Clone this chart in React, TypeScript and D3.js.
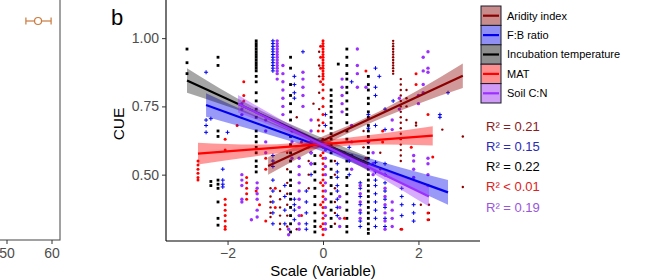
import React, { useEffect, useRef } from "react";
import * as d3 from "d3";

// panel a (only its right edge is visible)
const leftTicks = [50, 60];
const leftEstimate = [56.9];
const leftLow = [54.2];
const leftHigh = [59.8];

// panel b
const seriesNames = ["Aridity index", "F:B ratio", "Incubation temperature", "MAT", "Soil C:N"];
const r2Labels = ["R² = 0.21", "R² = 0.15", "R² = 0.22", "R² < 0.01", "R² = 0.19"];
const xTicks = [-2, 0, 2];
const yTicks = [0.5, 0.75, 1.0];

// points as columns: [scaled value, CUE values]
const aridityPts: [number, number[]][] = [
  [-1.1, [0.45, 0.42, 0.4, 0.38, 0.36, 0.345]],
  [-0.9, [0.44, 0.41, 0.38, 0.35, 0.32, 0.3]],
  [-0.75, [0.58, 0.52, 0.47, 0.43, 0.39, 0.35, 0.31]],
  [-0.55, [0.71, 0.66, 0.3]],
  [-0.3, [0.6, 0.55, 0.5, 0.45]],
  [-0.2, [0.76]],
  [-0.08, [0.95, 0.9, 0.86, 0.8, 0.74, 0.68]],
  [0.25, [0.55, 0.5, 0.45, 0.4, 0.36, 0.32]],
  [0.6, [0.62, 0.57]],
  [0.85, [0.66, 0.6, 0.55]],
  [1.2, [0.58, 0.52]],
  [1.47, [0.99, 0.98, 0.97, 0.96, 0.95, 0.94, 0.93, 0.92, 0.91, 0.9, 0.89, 0.88, 0.87]],
  [1.63, [0.85, 0.83, 0.81, 0.79, 0.77, 0.75, 0.73, 0.71, 0.69, 0.67, 0.65, 0.63, 0.61, 0.59, 0.57, 0.55, 0.3]],
  [1.75, [0.81, 0.78, 0.75, 0.7]],
  [1.95, [0.69, 0.68]],
  [2.05, [0.39]],
  [2.22, [0.39, 0.36, 0.335]],
  [2.5, [0.665]],
  [2.93, [0.64, 0.455]],
];

const fbPts: [number, number[]][] = [
  [-2.45, [0.875, 0.7, 0.68, 0.655]],
  [-2.35, [0.705]],
  [-2.1, [0.52, 0.48, 0.465, 0.455]],
  [-2.0, [0.655]],
  [-1.05, [0.99, 0.98, 0.97, 0.96, 0.95, 0.94, 0.93, 0.92, 0.91, 0.9, 0.89, 0.88, 0.57, 0.55, 0.53, 0.48, 0.44, 0.4, 0.36, 0.32]],
  [-0.8, [0.46, 0.42, 0.37, 0.32]],
  [-0.6, [0.86, 0.83, 0.8, 0.78, 0.41, 0.39, 0.37, 0.335]],
  [-0.42, [0.95]],
  [-0.35, [0.44, 0.4, 0.36, 0.32, 0.3]],
  [-0.25, [0.62, 0.58, 0.54, 0.5]],
  [0.05, [0.72, 0.68]],
  [0.3, [0.54, 0.51, 0.49, 0.46, 0.44, 0.41, 0.38, 0.35]],
  [0.55, [0.6, 0.55, 0.5]],
  [0.6, [0.84]],
  [0.78, [0.47, 0.45, 0.42, 0.39, 0.36, 0.33, 0.31]],
  [0.95, [0.72, 0.67, 0.62]],
  [1.1, [0.89, 0.82, 0.79, 0.68, 0.545, 0.51, 0.48, 0.46, 0.43, 0.4, 0.37, 0.34, 0.31]],
  [1.18, [0.86]],
  [1.3, [0.74, 0.665, 0.54, 0.5, 0.47, 0.44, 0.41, 0.38, 0.34, 0.31]],
  [1.47, [0.77]],
  [1.65, [0.45, 0.42, 0.39, 0.35]],
  [1.9, [0.39, 0.36, 0.33]],
  [2.45, [0.72, 0.71]],
  [2.62, [0.8]],
];

const incubationPts: [number, number[]][] = [
  [-2.85, [0.96, 0.91, 0.87]],
  [-2.2, [0.93, 0.9, 0.66, 0.64, 0.48, 0.465, 0.45, 0.4, 0.34, 0.315]],
  [-2.35, [0.475, 0.46]],
  [-1.4, [0.99, 0.98, 0.97, 0.96, 0.95, 0.94, 0.93, 0.92, 0.91, 0.9, 0.89, 0.88, 0.86, 0.84, 0.8, 0.77, 0.74, 0.71, 0.66, 0.64, 0.62, 0.6, 0.58, 0.55, 0.53, 0.51]],
  [-0.68, [0.93, 0.89, 0.83, 0.79, 0.76, 0.73, 0.7, 0.67, 0.64, 0.61, 0.58, 0.55, 0.51, 0.48, 0.46, 0.43, 0.41, 0.38, 0.35, 0.32, 0.29]],
  [-0.17, [0.57, 0.54, 0.51, 0.48, 0.45, 0.42, 0.39, 0.36, 0.33, 0.31, 0.29]],
  [0.17, [0.81, 0.79, 0.77, 0.75, 0.73, 0.71, 0.69, 0.67, 0.65, 0.63, 0.61, 0.58, 0.55, 0.52, 0.49, 0.46, 0.43, 0.4, 0.37, 0.34, 0.31]],
  [0.32, [0.905]],
  [0.5, [0.96, 0.93, 0.9, 0.87, 0.85, 0.82, 0.8, 0.77, 0.74, 0.72, 0.69, 0.66, 0.63, 0.55, 0.52, 0.49, 0.46, 0.43, 0.4, 0.37, 0.34, 0.31, 0.29]],
  [0.95, [0.86, 0.83, 0.81, 0.78, 0.76, 0.73, 0.71, 0.68, 0.66, 0.64, 0.62, 0.6, 0.58, 0.56, 0.54, 0.52, 0.5, 0.48, 0.46, 0.44, 0.42, 0.4, 0.38, 0.36, 0.34, 0.32, 0.3, 0.285]],
];

const matPts: [number, number[]][] = [
  [-2.62, [0.55, 0.535, 0.52, 0.505, 0.49, 0.48]],
  [-2.05, [0.63, 0.59, 0.41, 0.39, 0.37, 0.35, 0.33, 0.31, 0.3]],
  [-1.8, [0.68]],
  [-1.66, [0.84, 0.79, 0.77]],
  [-1.6, [0.49, 0.47, 0.45, 0.43, 0.41]],
  [-1.4, [0.44]],
  [-1.33, [0.39]],
  [-1.2, [0.56, 0.52, 0.33]],
  [-1.0, [0.45, 0.38]],
  [-0.45, [0.62, 0.35]],
  [-0.1, [0.7, 0.66]],
  [-0.05, [0.97, 0.93, 0.89, 0.84, 0.57, 0.47, 0.39, 0.31]],
  [0.0, [0.99, 0.98, 0.97, 0.96, 0.95, 0.94, 0.93, 0.92, 0.91, 0.9, 0.89, 0.88, 0.87, 0.86, 0.85, 0.83, 0.81, 0.78, 0.75, 0.72, 0.69, 0.66, 0.63, 0.6, 0.58, 0.56, 0.54, 0.52, 0.5, 0.48, 0.46, 0.44, 0.42, 0.4, 0.38, 0.36, 0.34, 0.32, 0.3, 0.28]],
  [0.45, [0.58, 0.34]],
  [0.9, [0.88, 0.56]],
  [1.25, [0.66, 0.62]],
  [1.65, [0.3]],
  [1.85, [0.6]],
  [1.95, [0.87, 0.83]],
  [2.2, [0.72, 0.36, 0.335]],
  [2.3, [0.565]],
];

const soilPts: [number, number[]][] = [
  [-1.7, [0.76, 0.74, 0.72, 0.5, 0.48, 0.46, 0.41, 0.4]],
  [-1.5, [0.335]],
  [-1.38, [0.47, 0.45, 0.43, 0.41, 0.37, 0.345]],
  [-1.2, [0.7, 0.66, 0.62, 0.58]],
  [-0.96, [0.99, 0.98, 0.97, 0.96, 0.95, 0.94, 0.93, 0.92, 0.91, 0.9, 0.89, 0.88, 0.87, 0.85]],
  [-0.84, [0.9, 0.87, 0.84, 0.81, 0.78, 0.75, 0.72]],
  [-0.72, [0.3, 0.28]],
  [-0.65, [0.66, 0.62, 0.56]],
  [-0.5, [0.56, 0.53, 0.5, 0.47, 0.44, 0.41, 0.38, 0.35, 0.32, 0.3]],
  [-0.42, [0.875, 0.85, 0.82, 0.79, 0.75]],
  [-0.25, [0.7, 0.66, 0.62, 0.58, 0.54]],
  [0.05, [0.59, 0.56, 0.53, 0.5, 0.47, 0.44, 0.41, 0.38, 0.35, 0.32, 0.3]],
  [0.35, [0.42, 0.38, 0.34, 0.31]],
  [0.4, [0.85, 0.82, 0.79, 0.76, 0.73]],
  [0.6, [0.68, 0.62, 0.57, 0.52]],
  [0.72, [0.96, 0.9, 0.87, 0.82]],
  [0.78, [0.46, 0.43, 0.4, 0.37, 0.34]],
  [0.9, [0.82]],
  [1.05, [0.58, 0.54, 0.5]],
  [1.3, [0.45, 0.42, 0.39, 0.36, 0.33, 0.3]],
  [1.45, [0.7, 0.665, 0.4, 0.37, 0.34, 0.31]],
  [1.6, [0.78, 0.74]],
  [1.9, [0.57, 0.55, 0.52, 0.49]],
  [2.0, [0.79, 0.76]],
  [2.1, [0.93, 0.88, 0.83, 0.8]],
  [2.2, [0.95, 0.89, 0.875, 0.56, 0.54, 0.5, 0.46]],
];

// fitted lines [x start, y start, x end, y end]
const fitLines = [
  [-1.15, 0.532, 2.93, 0.862],
  [-2.45, 0.755, 2.62, 0.435],
  [-2.85, 0.845, 0.95, 0.54],
  [-2.62, 0.577, 2.3, 0.643],
  [-1.78, 0.76, 2.22, 0.42],
];

// confidence bands [x, low, high]
const aridityBand = [[-1.15, 0.5, 0.565], [0, 0.607, 0.641], [0.9, 0.682, 0.708], [2.0, 0.76, 0.81], [2.93, 0.817, 0.907]];
const fbBand = [[-2.45, 0.712, 0.798], [-1.2, 0.65, 0.7], [0, 0.585, 0.615], [1.3, 0.493, 0.543], [2.62, 0.39, 0.48]];
const incubationBand = [[-2.85, 0.8, 0.89], [-1.5, 0.718, 0.752], [-0.5, 0.643, 0.671], [0.95, 0.515, 0.565]];
const matBand = [[-2.62, 0.537, 0.617], [-1.3, 0.57, 0.61], [0, 0.598, 0.626], [1.2, 0.61, 0.65], [2.3, 0.607, 0.677]];
const soilBand = [[-1.78, 0.728, 0.792], [-0.8, 0.658, 0.694], [0.2, 0.58, 0.604], [1.2, 0.49, 0.524], [2.22, 0.383, 0.457]];

const colors = ["#8b0000", "#0000ee", "#000000", "#ff0000", "#9b30ff"];
const bandFills = ["#8b0000", "#0000ee", "#000000", "#ff0000", "#9b30ff"];
const bandOpacity = [0.4, 0.4, 0.35, 0.4, 0.4];
const keyFills = ["#c98c8c", "#8f8ff5", "#8e8e8e", "#ff8f8f", "#cf9bf7"];
const r2Colors = ["#8b1a1a", "#2a2ab8", "#000000", "#dd2020", "#9a55dd"];

export default function App() {
  const svgRef = useRef<SVGSVGElement>(null);

  useEffect(() => {
    const svg = d3.select(svgRef.current);
    svg.selectAll("*").remove();
    const font = "'Liberation Sans', Arial, Helvetica, sans-serif";
    const tickGrey = "#4d4d4d";

    // ---- panel a edge ----
    const xa = d3.scaleLinear().domain([50, 60]).range([7, 52]);
    const ga = svg.append("g");
    ga.append("rect")
      .attr("x", -10).attr("y", -10).attr("width", 70).attr("height", 250)
      .attr("fill", "none").attr("stroke", "#555").attr("stroke-width", 1.1);
    leftTicks.forEach((t) => {
      ga.append("line").attr("x1", xa(t)).attr("x2", xa(t)).attr("y1", 240).attr("y2", 244)
        .attr("stroke", "#333");
      ga.append("text").attr("x", xa(t)).attr("y", 258).attr("text-anchor", "middle")
        .attr("font-size", 14).attr("font-family", font).attr("fill", tickGrey).text(t);
    });
    const orange = "#c97b3d";
    leftEstimate.forEach((v, i) => {
      const yy = 21;
      ga.append("line").attr("x1", xa(leftLow[i])).attr("x2", xa(leftHigh[i])).attr("y1", yy).attr("y2", yy)
        .attr("stroke", orange).attr("stroke-width", 1.2);
      [leftLow[i], leftHigh[i]].forEach((e) =>
        ga.append("line").attr("x1", xa(e)).attr("x2", xa(e)).attr("y1", yy - 3.5).attr("y2", yy + 3.5)
          .attr("stroke", orange).attr("stroke-width", 1.2));
      ga.append("circle").attr("cx", xa(v)).attr("cy", yy).attr("r", 3.5)
        .attr("fill", "white").attr("stroke", orange).attr("stroke-width", 1.2);
    });

    // ---- panel b ----
    const left = 166, right = 480, top = 1, bottom = 241;
    const x = d3.scaleLinear().domain([-3.29, 3.29]).range([left, right]);
    const y = d3.scaleLinear().domain([0.257, 1.136]).range([bottom, top]);

    const g = svg.append("g");
    const flat = (cols: [number, number[]][]) =>
      cols.flatMap(([cx, ys]) => ys.map((cy) => [cx, cy] as [number, number]));

    // points
    const pg = g.append("g");
    pg.selectAll("rect.inc").data(flat(incubationPts)).join("rect")
      .attr("x", (d) => x(d[0]) - 1.4).attr("y", (d) => y(d[1]) - 1.4)
      .attr("width", 2.8).attr("height", 2.8).attr("fill", colors[2]);
    pg.selectAll("path.fb").data(flat(fbPts)).join("path")
      .attr("d", (d) => {
        const cx = x(d[0]), cy = y(d[1]);
        return `M${cx - 2},${cy}H${cx + 2}M${cx},${cy - 2}V${cy + 2}`;
      })
      .attr("stroke", colors[1]).attr("stroke-width", 1).attr("fill", "none");
    pg.selectAll("circle.ar").data(flat(aridityPts)).join("circle")
      .attr("cx", (d) => x(d[0])).attr("cy", (d) => y(d[1])).attr("r", 1.2).attr("fill", colors[0]);
    pg.selectAll("circle.mat").data(flat(matPts)).join("circle")
      .attr("cx", (d) => x(d[0])).attr("cy", (d) => y(d[1])).attr("r", 1.5).attr("fill", colors[3]);
    pg.selectAll("circle.soil").data(flat(soilPts)).join("circle")
      .attr("cx", (d) => x(d[0])).attr("cy", (d) => y(d[1])).attr("r", 1.7).attr("fill", colors[4]);

    // smooths
    const bands = [aridityBand, fbBand, incubationBand, matBand, soilBand];
    const area = d3.area<number[]>()
      .x((d) => x(d[0])).y0((d) => y(d[1])).y1((d) => y(d[2]))
      .curve(d3.curveMonotoneX);
    bands.forEach((b, i) => {
      g.append("path").attr("d", area(b)).attr("fill", bandFills[i]).attr("opacity", bandOpacity[i]);
      const [x0, y0, x1, y1] = fitLines[i];
      g.append("line").attr("x1", x(x0)).attr("y1", y(y0)).attr("x2", x(x1)).attr("y2", y(y1))
        .attr("stroke", colors[i]).attr("stroke-width", 2.2);
    });

    // axes
    const ax = g.append("g").attr("transform", `translate(0,${bottom})`)
      .call(d3.axisBottom(x).tickValues(xTicks).tickSize(4).tickPadding(3)
        .tickFormat((d) => String(d).replace("-", "−")));
    const ay = g.append("g").attr("transform", `translate(${left},0)`)
      .call(d3.axisLeft(y).tickValues(yTicks).tickSize(4).tickPadding(3).tickFormat(d3.format(".2f")));
    [ax, ay].forEach((a) => {
      a.select(".domain").attr("stroke", "#000").attr("stroke-width", 1.1);
      a.selectAll(".tick line").attr("stroke", "#333");
      a.selectAll("text").attr("font-size", 14).attr("font-family", font).attr("fill", tickGrey);
    });
    ay.select(".domain").attr("d", `M0,${top - 5}V${bottom}`);
    ax.select(".domain").attr("d", `M0,0H${right - left}`).attr("transform", `translate(${left},0)`);

    svg.append("text").attr("x", (left + right) / 2).attr("y", 275.5).attr("text-anchor", "middle")
      .attr("font-size", 15).attr("font-family", font).attr("fill", "#000").text("Scale (Variable)");
    svg.append("text").attr("transform", `translate(124,124) rotate(-90)`).attr("text-anchor", "middle")
      .attr("font-size", 15.5).attr("font-family", font).attr("fill", "#000").text("CUE");
    svg.append("text").attr("x", 111).attr("y", 25)
      .attr("font-size", 22).attr("font-family", font).attr("fill", "#000").text("b");

    // legend
    const keyH = 19.4, keyW = 20, lx = 481, ly = 6;
    const lg = svg.append("g");
    seriesNames.forEach((name, i) => {
      const yy = ly + i * keyH;
      lg.append("rect").attr("x", lx).attr("y", yy).attr("width", keyW).attr("height", keyH)
        .attr("fill", keyFills[i]).attr("stroke", "#1a1a2a").attr("stroke-width", 1);
      lg.append("line").attr("x1", lx + 2).attr("x2", lx + keyW - 2).attr("y1", yy + keyH / 2).attr("y2", yy + keyH / 2)
        .attr("stroke", colors[i]).attr("stroke-width", 2.2);
      lg.append("text").attr("x", lx + keyW + 6).attr("y", yy + keyH / 2).attr("dy", "0.35em")
        .attr("font-size", 11).attr("font-family", font).attr("fill", "#000").text(name);
    });

    // R² labels
    r2Labels.forEach((t, i) => {
      svg.append("text").attr("x", 486).attr("y", 126 + i * 20.3).attr("dy", "0.35em")
        .attr("font-size", 13).attr("font-family", font).attr("fill", r2Colors[i]).text(t);
    });
  }, []);

  return (
    <svg ref={svgRef} width={654} height={279}
      style={{ position: "absolute", left: 0, top: 0, background: "#fff" }} />
  );
}
